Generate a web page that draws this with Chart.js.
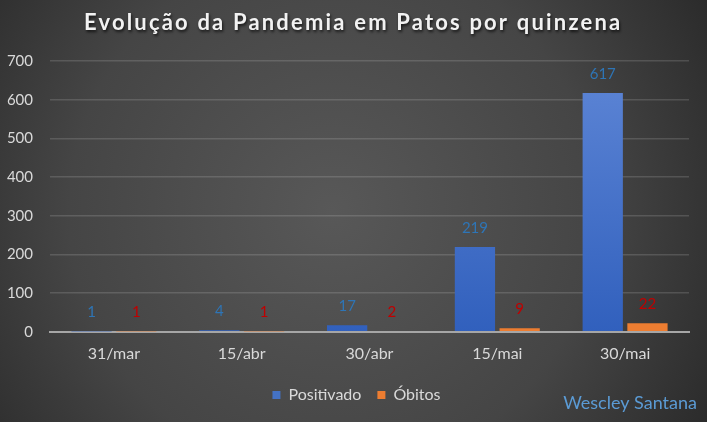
<!DOCTYPE html>
<html>
<head>
<meta charset="utf-8">
<script src="https://cdn.jsdelivr.net/npm/chart.js@4.4.0/dist/chart.umd.min.js"></script>
<style>
html,body{margin:0;padding:0;background:#333;}
#wrap{width:707px;height:422px;position:relative;}
</style>
</head>
<body>
<div id="wrap"><canvas id="c" width="707" height="422"></canvas></div>
<script>
const categories = ['31/mar', '15/abr', '30/abr', '15/mai', '30/mai'];
const positivado = [1, 4, 17, 219, 617];
const obitos = [1, 1, 2, 9, 22];
const seriesNames = ['Positivado', 'Óbitos'];
const yTicks = [0, 100, 200, 300, 400, 500, 600, 700];
const titleText = 'Evolução da Pandemia em Patos por quinzena';
const authorText = 'Wescley Santana';

const FONT = 'Lato, "Open Sans", sans-serif';

const bgPlugin = {
  id: 'bg',
  afterLayout(chart) {
    if (chart.legend) { chart.legend.left += 12; chart.legend.right += 12; }
  },
  beforeDraw(chart) {
    const ctx = chart.ctx, w = chart.width, h = chart.height;
    ctx.save();
    const g = ctx.createRadialGradient(w * 0.47, h * 0.5, 0, w * 0.47, h * 0.5, w * 0.62);
    g.addColorStop(0, '#585858');
    g.addColorStop(0.6, '#454545');
    g.addColorStop(1, '#2a2a2a');
    ctx.fillStyle = g;
    ctx.fillRect(0, 0, w, h);
    // title
    ctx.font = 'bold 22px ' + FONT;
    try { ctx.letterSpacing = '0px'; } catch (e) {}
    const natural = ctx.measureText(titleText).width;
    const spacing = Math.max(0, (536 - natural) / (titleText.length - 1));
    try { ctx.letterSpacing = spacing.toFixed(2) + 'px'; } catch (e) {}
    ctx.textAlign = 'left';
    ctx.textBaseline = 'middle';
    ctx.shadowColor = 'rgba(0,0,0,0.7)';
    ctx.shadowBlur = 3;
    ctx.shadowOffsetX = 1;
    ctx.shadowOffsetY = 2;
    ctx.fillStyle = '#f2f2f2';
    ctx.fillText(titleText, 84, 23);
    ctx.restore();
  },
  afterDraw(chart) {
    const ctx = chart.ctx;
    ctx.save();
    ctx.font = '18px ' + FONT;
    ctx.textAlign = 'right';
    ctx.textBaseline = 'middle';
    ctx.fillStyle = '#5b9bd5';
    ctx.fillText(authorText, 697, 403);
    ctx.restore();
  }
};

const labelPlugin = {
  id: 'vlabels',
  afterDatasetsDraw(chart) {
    const ctx = chart.ctx;
    ctx.save();
    ctx.font = '15px ' + FONT;
    ctx.textAlign = 'center';
    ctx.textBaseline = 'middle';
    const colors = ['#2e75b6', '#c00000'];
    chart.data.datasets.forEach((ds, i) => {
      const meta = chart.getDatasetMeta(i);
      meta.data.forEach((bar, j) => {
        ctx.fillStyle = colors[i];
        ctx.fillText(String(ds.data[j]), bar.x, Math.min(bar.y, chart.chartArea.bottom - 1) - 19);
      });
    });
    ctx.restore();
  }
};

function blueGrad(context) {
  const chart = context.chart;
  const area = chart.chartArea;
  if (!area) return '#4472c4';
  const g = chart.ctx.createLinearGradient(0, area.top, 0, area.bottom);
  g.addColorStop(0, '#5e86d6');
  g.addColorStop(1, '#3160bd');
  return g;
}

new Chart(document.getElementById('c'), {
  type: 'bar',
  data: {
    labels: categories,
    datasets: [
      { label: seriesNames[0], data: positivado, backgroundColor: blueGrad, borderWidth: 0,
        categoryPercentage: 0.7, barPercentage: 0.9 },
      { label: seriesNames[1], data: obitos, backgroundColor: '#ed7d31', borderWidth: 0,
        categoryPercentage: 0.7, barPercentage: 0.9 }
    ]
  },
  options: {
    responsive: false,
    animation: false,
    devicePixelRatio: 1,
    layout: { padding: { top: 61, right: 18, left: 0, bottom: 9 } },
    plugins: {
      title: { display: false },
      tooltip: { enabled: false },
      legend: {
        display: true,
        position: 'bottom',
        labels: {
          color: '#d9d9d9',
          font: { family: FONT, size: 16 },
          boxWidth: 8,
          boxHeight: 8,
          padding: 16,
          generateLabels(chart) {
            const cols = ['#4472c4', '#ed7d31'];
            return chart.data.datasets.map((ds, i) => ({
              text: ds.label, fillStyle: cols[i], strokeStyle: cols[i], lineWidth: 0,
              hidden: false, datasetIndex: i, fontColor: '#d9d9d9'
            }));
          }
        }
      }
    },
    scales: {
      x: {
        afterFit(scale) { scale.height = scale.height - 4; },
        grid: { display: false, drawTicks: false },
        border: { display: true, color: '#a6a6a6', width: 2 },
        ticks: { color: '#d9d9d9', font: { family: FONT, size: 16 }, padding: 12 }
      },
      y: {
        min: 0, max: 700,
        afterFit(scale) { scale.width = 50; },
        afterBuildTicks(scale) { scale.ticks = yTicks.map(v => ({ value: v })); },
        grid: { color: 'rgba(255,255,255,0.14)', lineWidth: 1.5, drawTicks: false },
        border: { display: false },
        ticks: { color: '#d9d9d9', font: { family: FONT, size: 15 }, padding: 17 }
      }
    }
  },
  plugins: [bgPlugin, labelPlugin]
});
</script>
</body>
</html>
